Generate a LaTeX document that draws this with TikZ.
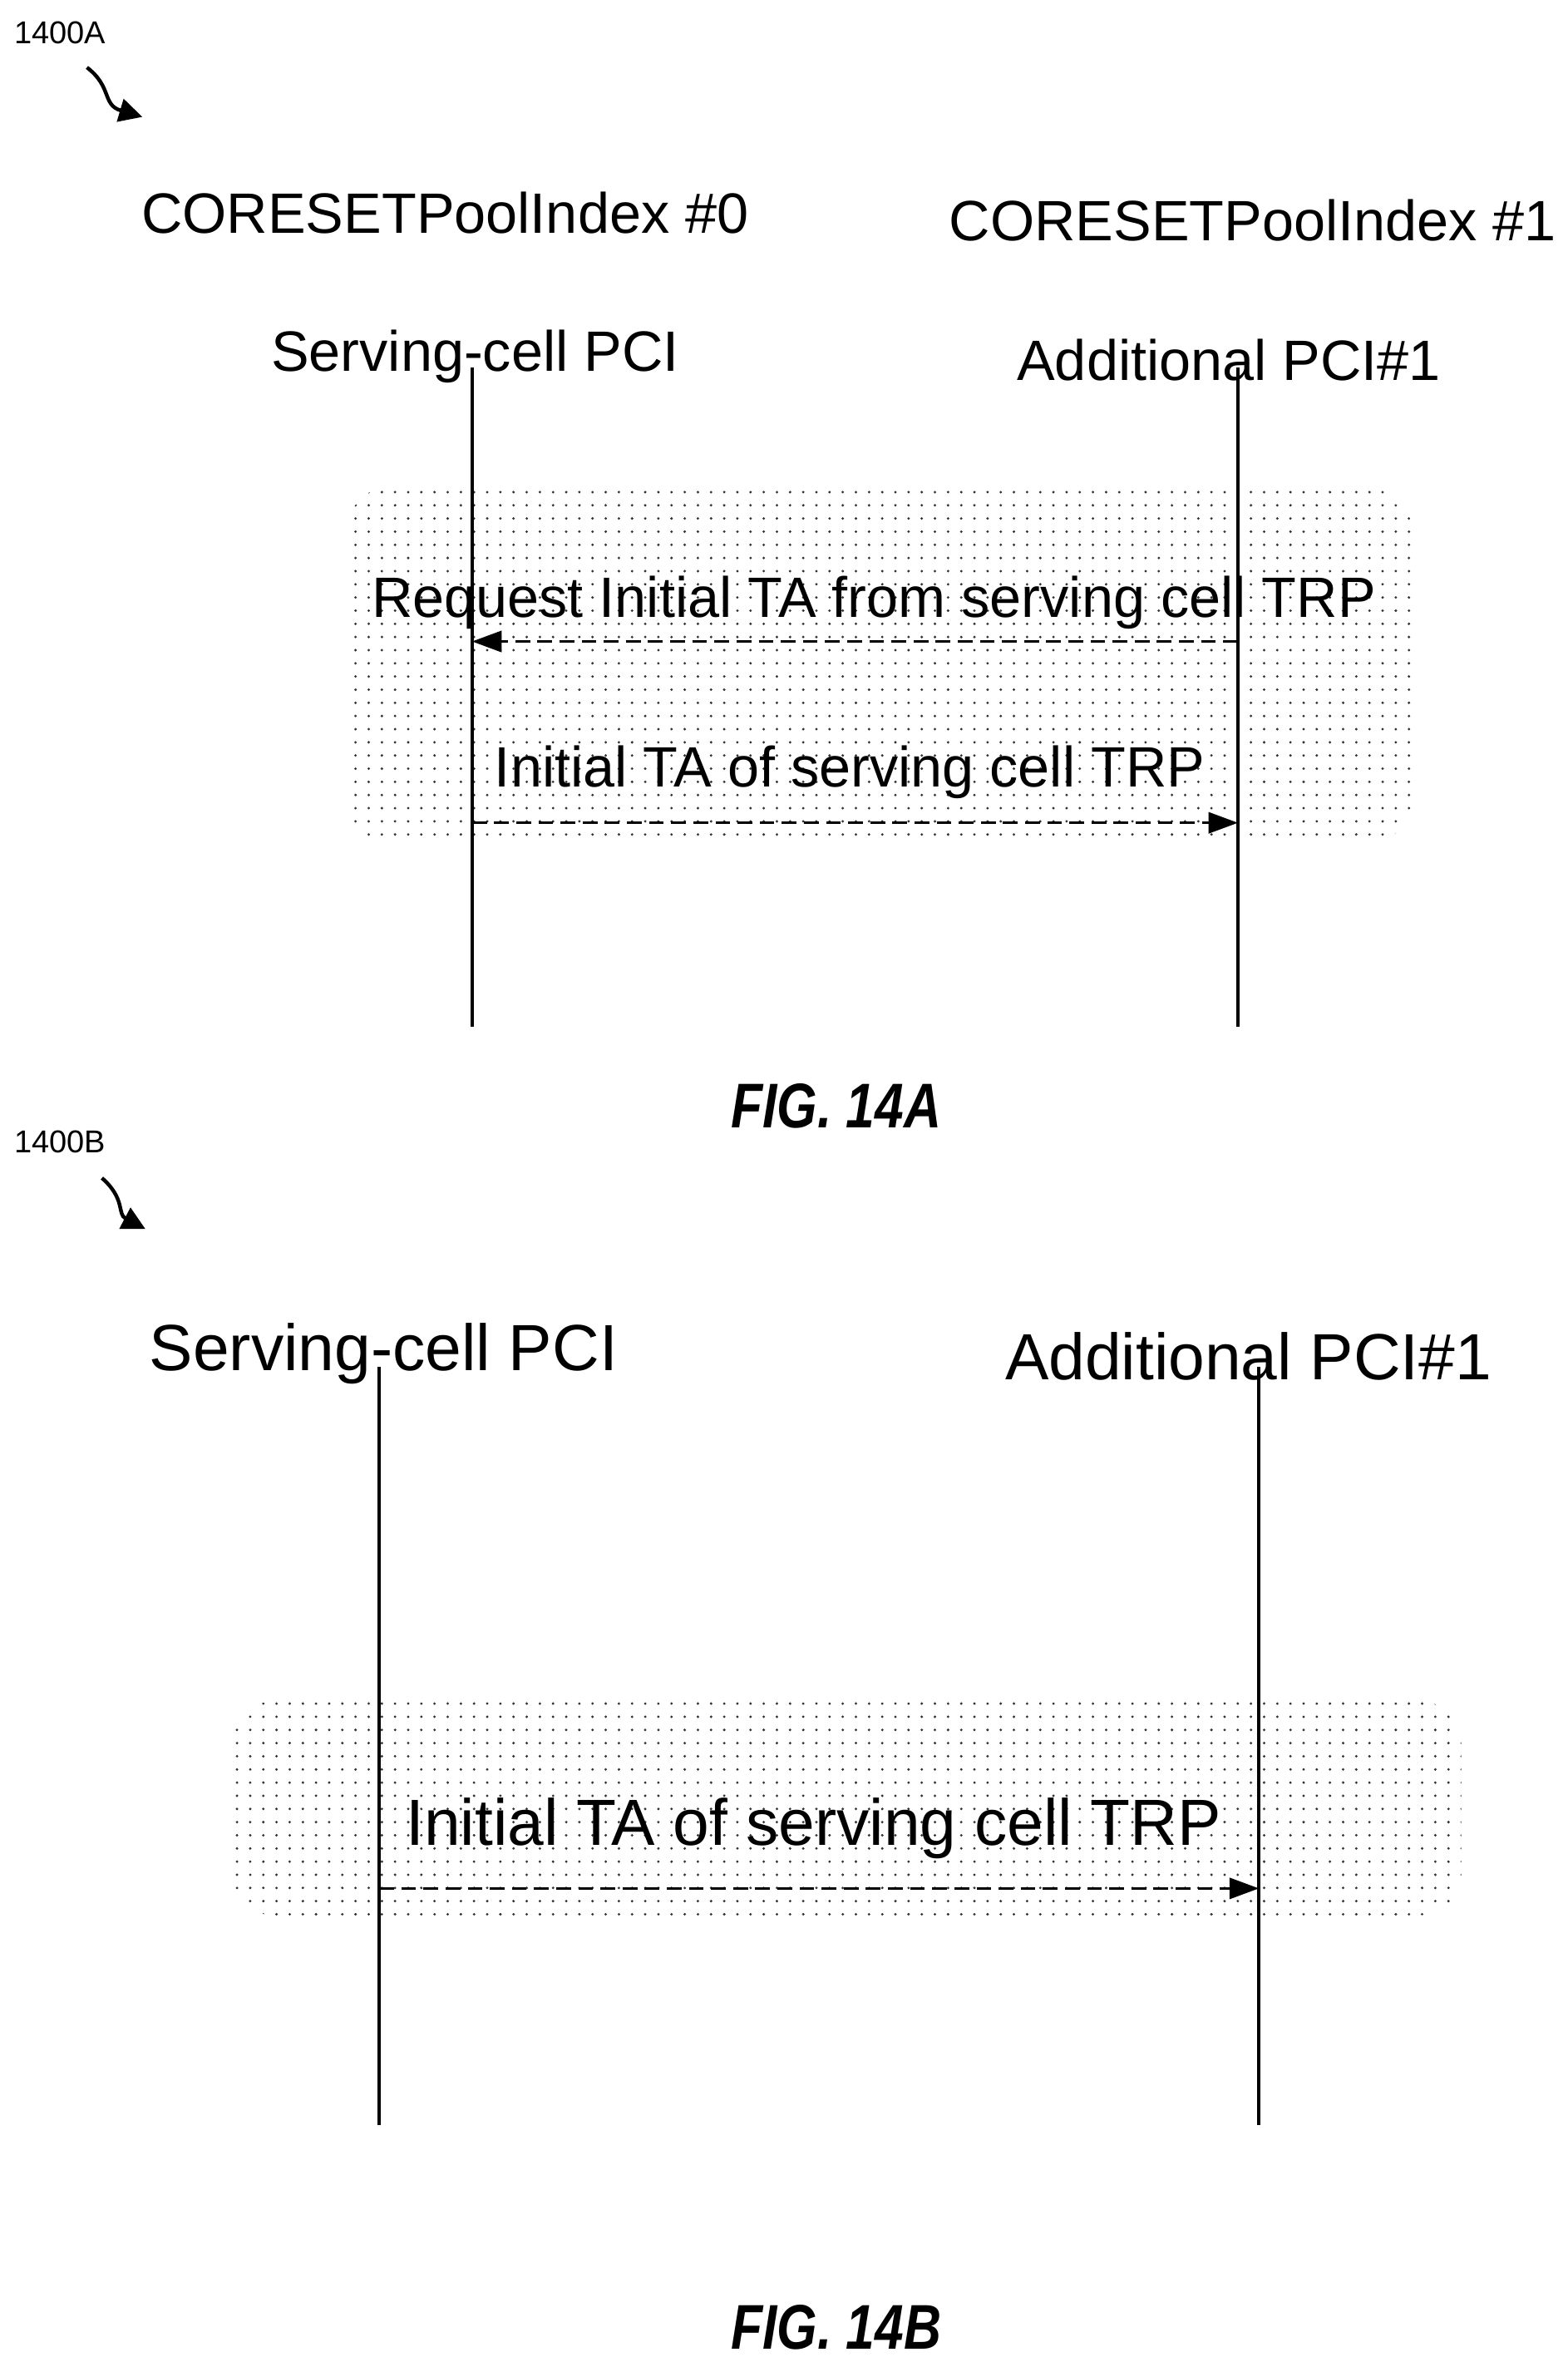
\documentclass[tikz,border=0pt]{standalone}
\usepackage{fontspec}
\setmainfont{Liberation Sans}
\usetikzlibrary{positioning, arrows.meta, patterns.meta}
\tikzdeclarepattern{name=sdots, type=uncolored, bottom left={(-1.5pt,-1.5pt)}, top right={(12pt,12pt)}, tile size={(12.5pt,12.5pt)}, code={\fill (0,0) circle (1.3pt);}}
\tikzset{
  lbl/.style={font=\fontsize{54}{58}\selectfont, inner sep=0pt},
  lblb/.style={font=\fontsize{62}{66}\selectfont, inner sep=0pt},
  refno/.style={font=\fontsize{30}{32}\selectfont, inner sep=0pt},
  fig/.style={font=\fontsize{60}{64}\selectfont\bfseries\itshape, inner sep=0pt, xscale=0.82},
  life/.style={line width=3pt},
  msg/.style={line width=2.4pt, dash pattern=on 14pt off 7pt, -{Triangle[length=28pt,width=20pt]}},
  zone/.style={pattern={sdots}, pattern color=black!80, draw=none, rounded corners=40pt},
  curl/.style={line width=3.5pt, -{Triangle[length=22pt,width=22pt]}}
}
\begin{document}
\begin{tikzpicture}[x=0.05cm, y=-0.05cm]
  \useasboundingbox (0,0) rectangle (1046,1576);
  % FIG. 14A
  \node[refno] (refA) at (40,22) {1400A};
  \coordinate (curlA) at (95,78);
  \draw[curl] (58,45) .. controls (75,58) and (68,70) .. (curlA);
  \node[lbl] (poolA) at (297,142) {CORESETPoolIndex \#0};
  \node[lbl] (poolB) at (836,147) {CORESETPoolIndex \#1};
  \node[lbl] (servA) at (317,238) {Serving-cell PCI};
  \node[lbl] (addA) at (820,240) {Additional PCI\#1};
  \fill[zone] (232,325) rectangle (942,562);
  \coordinate (sA1) at (315,245);
  \coordinate (sA2) at (315,685);
  \coordinate (aA1) at (826,245);
  \coordinate (aA2) at (826,685);
  \draw[life] (sA1) -- (sA2);
  \draw[life] (aA1) -- (aA2);
  \node[lbl] (reqA) at (583,402) {Request Initial TA from serving cell TRP};
  \coordinate (reqS) at (826,428);
  \coordinate (reqE) at (315,428);
  \draw[msg] (reqS) -- (reqE);
  \node[lbl] (taA) at (567,515) {Initial TA of serving cell TRP};
  \coordinate (taS) at (315,549);
  \coordinate (taE) at (826,549);
  \draw[msg] (taS) -- (taE);
  \node[fig] (figA) at (558,738) {FIG. 14A};
  % FIG. 14B
  \node[refno] (refB) at (40,762) {1400B};
  \coordinate (curlB) at (97,820);
  \draw[curl] (68,786) .. controls (84,800) and (78,810) .. (curlB);
  \node[lblb] (servB) at (256,903) {Serving-cell PCI};
  \node[lblb] (addB) at (833,905) {Additional PCI\#1};
  \fill[zone] (155,1135) rectangle (975,1278);
  \coordinate (sB1) at (253,912);
  \coordinate (sB2) at (253,1418);
  \coordinate (aB1) at (840,912);
  \coordinate (aB2) at (840,1418);
  \draw[life] (sB1) -- (sB2);
  \draw[life] (aB1) -- (aB2);
  \node[lblb] (taB) at (543,1220) {Initial TA of serving cell TRP};
  \coordinate (tbS) at (253,1260);
  \coordinate (tbE) at (840,1260);
  \draw[msg] (tbS) -- (tbE);
  \node[fig] (figB) at (558,1553) {FIG. 14B};
\end{tikzpicture}
\end{document}
